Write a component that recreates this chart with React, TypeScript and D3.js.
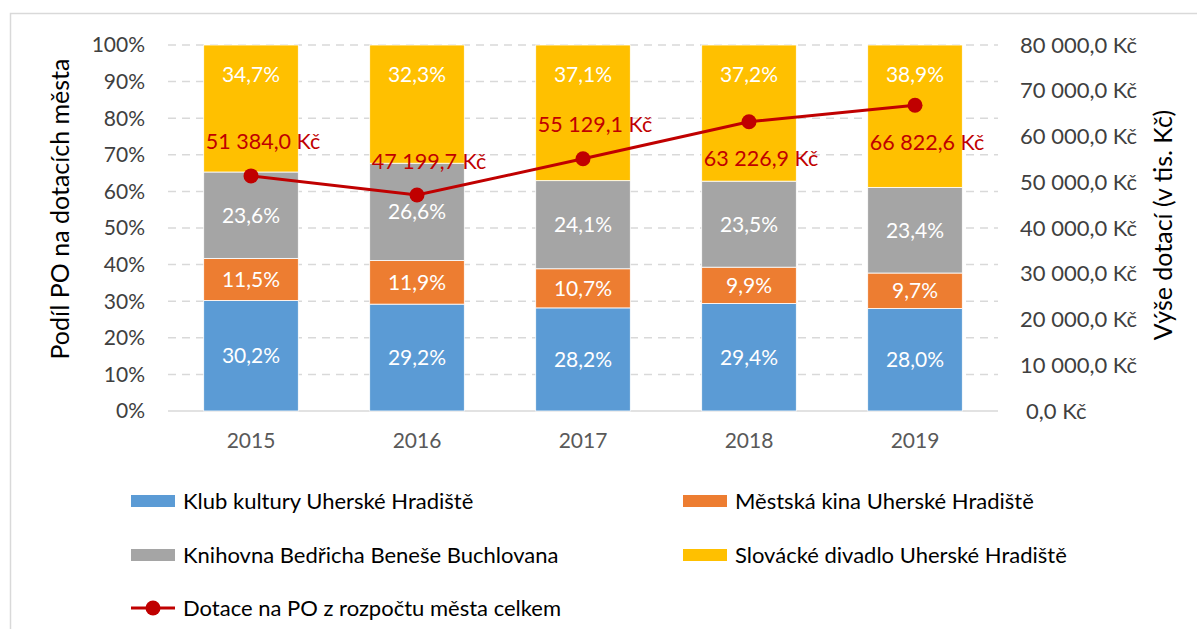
import { useRef, useEffect } from 'react';
import * as d3 from 'd3';

const years = ['2015', '2016', '2017', '2018', '2019'];
const seriesNames = [
  'Klub kultury Uherské Hradiště',
  'Městská kina Uherské Hradiště',
  'Knihovna Bedřicha Beneše Buchlovana',
  'Slovácké divadlo Uherské Hradiště',
];
const klubKultury = [30.2, 29.2, 28.2, 29.4, 28.0];
const mestskaKina = [11.5, 11.9, 10.7, 9.9, 9.7];
const knihovna = [23.6, 26.6, 24.1, 23.5, 23.4];
const divadlo = [34.7, 32.3, 37.1, 37.2, 38.9];
const dotaceCelkem = [51384.0, 47199.7, 55129.1, 63226.9, 66822.6];
const dotaceLabelSide = ['above', 'above', 'above', 'below', 'below'];
const lineName = 'Dotace na PO z rozpočtu města celkem';
const leftTicks = [0, 0.1, 0.2, 0.3, 0.4, 0.5, 0.6, 0.7, 0.8, 0.9, 1];
const rightTicks = [0, 10000, 20000, 30000, 40000, 50000, 60000, 70000, 80000];

const colors = ['#5B9BD5', '#ED7D31', '#A5A5A5', '#FFC000'];
const lineColor = '#C00000';
const font = 'Lato, "Open Sans", sans-serif';

export default function App() {
  const svgRef = useRef<SVGSVGElement>(null);

  useEffect(() => {
    const svg = d3.select(svgRef.current);
    svg.selectAll('*').remove();

    const left = 168;
    const right = 998;
    const top = 45;
    const bottom = 411;

    // chart frame
    svg.append('rect')
      .attr('x', 10.5).attr('y', 13.5)
      .attr('width', 1300).attr('height', 800)
      .attr('fill', 'white')
      .attr('stroke', '#D9D9D9').attr('stroke-width', 1.5);

    const x = d3.scaleBand().domain(years).range([left, right]).paddingInner(0.43).paddingOuter(0.215);
    const yPct = d3.scaleLinear().domain([0, 1]).range([bottom, top]);
    const yVal = d3.scaleLinear().domain([0, 80000]).range([bottom, top]);

    const rows = years.map((year, i) => ({
      year,
      s0: klubKultury[i],
      s1: mestskaKina[i],
      s2: knihovna[i],
      s3: divadlo[i],
    }));
    const stack = d3.stack<any>().keys(['s0', 's1', 's2', 's3']).offset(d3.stackOffsetExpand);
    const layers = stack(rows);

    // gridlines
    const grid = svg.append('g');
    grid.selectAll('line')
      .data(leftTicks)
      .join('line')
      .attr('x1', left).attr('x2', right)
      .attr('y1', (d) => yPct(d)).attr('y2', (d) => yPct(d))
      .attr('stroke', '#D9D9D9')
      .attr('stroke-width', 1.5)
      .attr('stroke-dasharray', (d) => (d === 0 ? null : '8,6'));

    // left axis labels
    svg.append('g')
      .selectAll('text')
      .data(leftTicks)
      .join('text')
      .attr('x', 145)
      .attr('y', (d) => yPct(d))
      .attr('dy', '0.35em')
      .attr('text-anchor', 'end')
      .attr('font-family', font)
      .attr('font-size', 21)
      .attr('fill', '#404040')
      .text((d) => `${Math.round(d * 100)}%`);

    // right axis labels
    const fmtKc = (v: number) => d3.format(',.1f')(v).replace(/,/g, ' ').replace('.', ',') + ' Kč';
    svg.append('g')
      .selectAll('text')
      .data(rightTicks)
      .join('text')
      .attr('x', (d) => (d === 0 ? 1026 : 1020))
      .attr('y', (d) => yVal(d))
      .attr('dy', '0.35em')
      .attr('font-family', font)
      .attr('font-size', 22)
      .attr('fill', '#404040')
      .text((d) => fmtKc(d));

    // x labels
    svg.append('g')
      .selectAll('text')
      .data(years)
      .join('text')
      .attr('x', (d) => x(d)! + x.bandwidth() / 2)
      .attr('y', 441)
      .attr('dy', '0.35em')
      .attr('text-anchor', 'middle')
      .attr('font-family', font)
      .attr('font-size', 21)
      .attr('fill', '#595959')
      .text((d) => d);

    // bars
    const barG = svg.append('g');
    layers.forEach((layer, li) => {
      barG.append('g')
        .selectAll('rect')
        .data(layer)
        .join('rect')
        .attr('x', (d) => x(d.data.year)!)
        .attr('width', x.bandwidth())
        .attr('y', (d) => yPct(d[1]))
        .attr('height', (d) => yPct(d[0]) - yPct(d[1]))
        .attr('fill', colors[li])
        .attr('stroke', 'white')
        .attr('stroke-width', 0.8);
    });

    // bar labels
    const pctFmt = (v: number) => v.toFixed(1).replace('.', ',') + '%';
    layers.forEach((layer, li) => {
      barG.append('g')
        .selectAll('text')
        .data(layer)
        .join('text')
        .attr('x', (d) => x(d.data.year)! + x.bandwidth() / 2)
        .attr('y', (d) => (li === 3 ? yPct(d[1]) + 30 : (yPct(d[0]) + yPct(d[1])) / 2))
        .attr('dy', '0.35em')
        .attr('text-anchor', 'middle')
        .attr('font-family', font)
        .attr('font-size', 21)
        .attr('fill', 'white')
        .text((d) => pctFmt(d.data[`s${li}`]));
    });

    // line
    const cx = (i: number) => x(years[i])! + x.bandwidth() / 2;
    const line = d3.line<number>().x((_, i) => cx(i)).y((d) => yVal(d));
    svg.append('path')
      .datum(dotaceCelkem)
      .attr('d', line)
      .attr('fill', 'none')
      .attr('stroke', lineColor)
      .attr('stroke-width', 3);
    svg.append('g')
      .selectAll('circle')
      .data(dotaceCelkem)
      .join('circle')
      .attr('cx', (_, i) => cx(i))
      .attr('cy', (d) => yVal(d))
      .attr('r', 7.5)
      .attr('fill', lineColor);
    svg.append('g')
      .selectAll('text')
      .data(dotaceCelkem)
      .join('text')
      .attr('x', (_, i) => cx(i) + 12)
      .attr('y', (d, i) => yVal(d) + (dotaceLabelSide[i] === 'above' ? -34 : 37))
      .attr('dy', '0.35em')
      .attr('text-anchor', 'middle')
      .attr('font-family', font)
      .attr('font-size', 21.5)
      .attr('fill', lineColor)
      .text((d) => fmtKc(d));

    // axis titles
    svg.append('text')
      .attr('transform', 'translate(60,209) rotate(-90)')
      .attr('dy', '0.35em')
      .attr('text-anchor', 'middle')
      .attr('font-family', font)
      .attr('font-size', 25)
      .attr('fill', '#000')
      .text('Podíl PO na dotacích města');
    svg.append('text')
      .attr('transform', 'translate(1163,225) rotate(-90)')
      .attr('dy', '0.35em')
      .attr('text-anchor', 'middle')
      .attr('font-family', font)
      .attr('font-size', 25)
      .attr('fill', '#000')
      .text('Výše dotací (v tis. Kč)');

    // legend
    const legendItems = [
      { name: seriesNames[0], color: colors[0], x: 131, y: 501 },
      { name: seriesNames[1], color: colors[1], x: 683, y: 501 },
      { name: seriesNames[2], color: colors[2], x: 131, y: 555 },
      { name: seriesNames[3], color: colors[3], x: 683, y: 555 },
    ];
    const leg = svg.append('g');
    legendItems.forEach((it) => {
      leg.append('rect')
        .attr('x', it.x).attr('y', it.y - 6)
        .attr('width', 44).attr('height', 12)
        .attr('fill', it.color);
      leg.append('text')
        .attr('x', it.x + 52).attr('y', it.y)
        .attr('dy', '0.35em')
        .attr('font-family', font)
        .attr('font-size', 22)
        .attr('fill', '#000')
        .text(it.name);
    });
    leg.append('line')
      .attr('x1', 131).attr('x2', 175)
      .attr('y1', 608).attr('y2', 608)
      .attr('stroke', lineColor).attr('stroke-width', 3);
    leg.append('circle')
      .attr('cx', 153).attr('cy', 608).attr('r', 7.5)
      .attr('fill', lineColor);
    leg.append('text')
      .attr('x', 183).attr('y', 608)
      .attr('dy', '0.35em')
      .attr('font-family', font)
      .attr('font-size', 22)
      .attr('fill', '#000')
      .text(lineName);
  }, []);

  return (
    <svg
      ref={svgRef}
      width={1197}
      height={629}
      style={{ position: 'absolute', left: 0, top: 0, display: 'block' }}
    />
  );
}
